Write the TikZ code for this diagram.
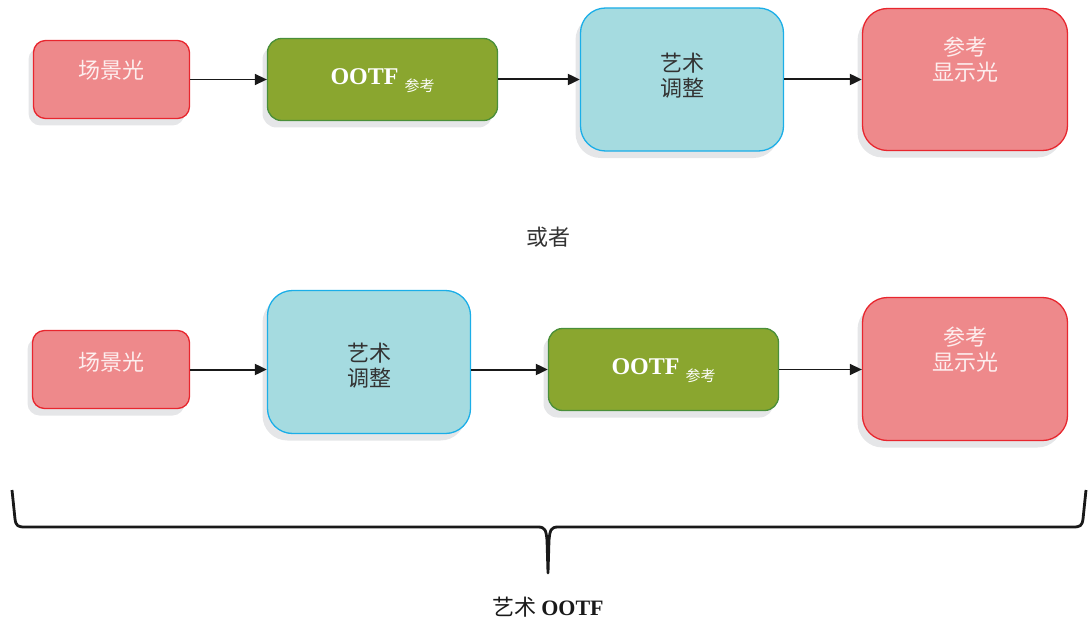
\documentclass[tikz,border=0pt]{standalone}
\usepackage{fontspec}
\setmainfont{Liberation Serif}
\newfontfamily\cjk{Noto Sans CJK SC}
\usepackage{tikz}
\usetikzlibrary{arrows.meta, shadows, calc}
\definecolor{redfill}{RGB}{238, 137, 139}
\definecolor{redline}{RGB}{232, 38, 46}
\definecolor{greenfill}{RGB}{138, 166, 47}
\definecolor{greenline}{RGB}{74, 143, 58}
\definecolor{cyanfill}{RGB}{165, 219, 224}
\definecolor{cyanline}{RGB}{27, 174, 232}
\definecolor{shade}{RGB}{229, 230, 232}
\definecolor{ink}{RGB}{51, 51, 51}
\definecolor{pinkwhite}{RGB}{253, 238, 238}
\newcommand{\refsub}{\raisebox{-7pt}{\cjk\mdseries\fontsize{15}{15}\selectfont 参考}}

\begin{document}
\begin{tikzpicture}[x=1pt, y=-1pt,
  box/.style={draw, line width=1.3pt, inner sep=0pt,
    general shadow={fill=shade, shadow xshift=-5pt, shadow yshift=-7pt}},
  redbox/.style={box, fill=redfill, draw=redline},
  greenbox/.style={box, fill=greenfill, draw=greenline, rounded corners=14pt,
    minimum width=230pt, minimum height=82pt},
  cyanbox/.style={box, fill=cyanfill, draw=cyanline, rounded corners=25pt,
    minimum width=203pt, minimum height=143pt},
  lt/.style={font=\cjk\fontsize{22}{25}\selectfont, align=center, inner sep=0pt},
  ootf/.style={font=\bfseries\fontsize{24}{24}\selectfont, text=white, anchor=base, inner sep=0pt},
  arr/.style={line width=2pt, draw=black!90, -{Triangle[length=12pt, width=11pt]}},
  thinarr/.style={arr, line width=1.4pt}]
  \useasboundingbox (0, 0) rectangle (1089, 623);

  % first chain
  \node[redbox, rounded corners=12pt, minimum width=156pt, minimum height=78pt] (a1) at (111.5, 79.5) {};
  \node[greenbox] (b1) at (382.5, 79.5) {};
  \node[cyanbox] (c1) at (682, 79.5) {};
  \node[redbox, rounded corners=25pt, minimum width=205pt, minimum height=142pt] (d1) at (965, 79.5) {};

  \node[lt, text=pinkwhite] (ta1) at ($(a1.north)+(0, 30)$) {场景光};
  \node[ootf] (tb1) at ($(b1.center)+(0, 5.5)$) {OOTF\hspace{6pt}\refsub};
  \node[lt, text=ink] (tc1) at ($(c1.north)+(0, 68)$) {艺术\\调整};
  \node[lt, text=pinkwhite] (td1) at ($(d1.north)+(0, 52)$) {参考\\显示光};

  \draw[thinarr] (a1.east) -- (b1.west);
  \draw[arr] (b1.east) -- (c1.west);
  \draw[arr] (c1.east) -- (d1.west);

  \node[lt, text=ink] (alt) at (548, 237) {或者};

  % second chain
  \node[redbox, rounded corners=12pt, minimum width=157pt, minimum height=78pt] (a2) at (111, 369.5) {};
  \node[cyanbox] (c2) at (369, 362) {};
  \node[greenbox] (b2) at (663.5, 369.5) {};
  \node[redbox, rounded corners=25pt, minimum width=205pt, minimum height=143pt] (d2) at (965, 369) {};

  \node[lt, text=pinkwhite] (ta2) at ($(a2.north)+(0, 32)$) {场景光};
  \node[lt, text=ink] (tc2) at ($(c2.north)+(0, 76)$) {艺术\\调整};
  \node[ootf] (tb2) at ($(b2.center)+(0, 5)$) {OOTF\hspace{6pt}\refsub};
  \node[lt, text=pinkwhite] (td2) at ($(d2.north)+(0, 53)$) {参考\\显示光};

  \draw[arr] (a2.east) -- (a2.east -| c2.west);
  \draw[arr] (c2.east |- a2.east) -- (b2.west);
  \draw[thinarr] (b2.east) -- (b2.east -| d2.west);

  % brace under both chains
  \draw[line width=2.8pt, black!90, line join=round]
    (12, 490) -- (15, 519) .. controls (16, 526) and (18, 527) .. (25, 527)
    -- (538, 527) .. controls (545, 527) and (546, 530) .. (547, 540) -- (548, 573)
    -- (549, 540) .. controls (550, 530) and (551, 527) .. (558, 527)
    -- (1073, 527) .. controls (1080, 527) and (1082, 526) .. (1083, 519) -- (1086, 490);
  \node[inner sep=0pt, text=black!90] (total) at (548, 607)
    {{\cjk\fontsize{22}{22}\selectfont 艺术}\hspace{5pt}{\bfseries\fontsize{22}{22}\selectfont OOTF}};
\end{tikzpicture}
\end{document}
